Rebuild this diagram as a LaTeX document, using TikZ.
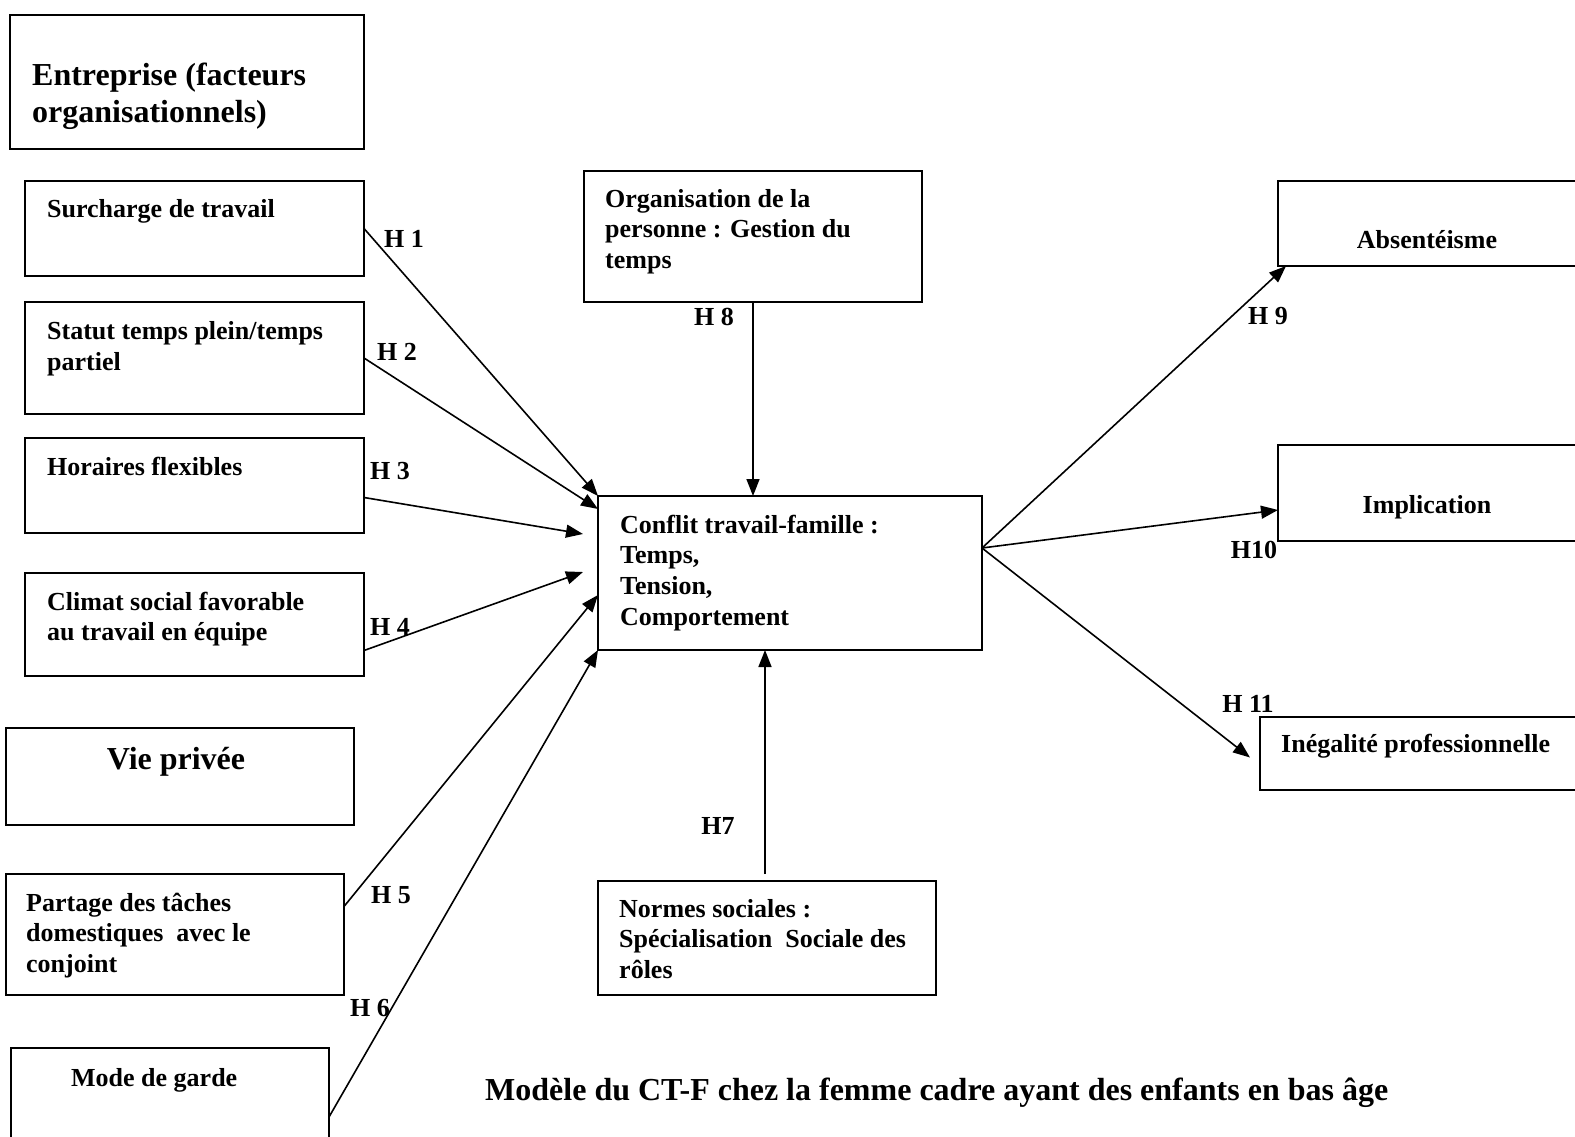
\documentclass[tikz,border=0pt]{standalone}
\usepackage{fontspec}
\setmainfont{Liberation Serif}
\usetikzlibrary{arrows.meta,calc}
\begin{document}
\begin{tikzpicture}[x=1pt,y=-1pt,
  box/.style={draw, line width=1.8pt, inner sep=0pt, outer sep=0pt, anchor=north west},
  txt/.style={anchor=base west, align=left, inner sep=0pt, font=\fontsize{26}{30.7}\selectfont\bfseries},
  bigtxt/.style={anchor=base west, align=left, inner sep=0pt, font=\fontsize{32}{37}\selectfont\bfseries},
  lab/.style={inner sep=0pt, font=\fontsize{26}{30}\selectfont\bfseries},
  arr/.style={line width=1.6pt, -{Triangle[length=17pt,width=13pt]}}]
\useasboundingbox (0,0) rectangle (1575,1137);
% boxes
\node[box, minimum width=354, minimum height=134] (entre) at (10,15) {};
\node[box, minimum width=339, minimum height=95] (surch) at (25,181) {};
\node[box, minimum width=339, minimum height=112] (statut) at (25,302) {};
\node[box, minimum width=339, minimum height=95] (horaires) at (25,438) {};
\node[box, minimum width=339, minimum height=103] (climat) at (25,573) {};
\node[box, minimum width=348, minimum height=97] (vie) at (6,728) {};
\node[box, minimum width=338, minimum height=121] (partage) at (6,874) {};
\node[box, minimum width=318, minimum height=110] (mode) at (11,1048) {};
\node[box, minimum width=338, minimum height=131] (org) at (584,171) {};
\node[box, minimum width=384, minimum height=154] (conflit) at (598,496) {};
\node[box, minimum width=338, minimum height=114] (normes) at (598,881) {};
\node[box, minimum width=310, minimum height=85] (absent) at (1278,181) {};
\node[box, minimum width=310, minimum height=96] (implic) at (1278,445) {};
\node[box, minimum width=330, minimum height=73] (inegal) at (1260,717) {};
% texts (multi-line nodes anchored at the baseline of their last line)
\node[bigtxt] (entreT) at (32,123) {Entreprise (facteurs\\organisationnels)};
\node[txt] (surchT) at (47,217) {Surcharge de travail};
\node[txt] (statutT) at (47,370.2) {Statut temps plein/temps\\partiel};
\node[txt] (horT) at (47,475) {Horaires flexibles};
\node[txt] (climT) at (47,640.7) {Climat social favorable\\au travail en équipe};
\node[bigtxt, anchor=base] (vieT) at (176,769) {Vie privée};
\node[txt] (partT) at (26,972.4) {Partage des tâches\\domestiques\ \ avec le\\conjoint};
\node[txt] (modeT) at (71,1086) {Mode de garde};
\node[txt] (orgT) at (605,268.4) {Organisation de la\\personne : Gestion du\\temps};
\node[txt] (confT) at (620,625.1) {Conflit travail-famille :\\Temps,\\Tension,\\Comportement};
\node[txt] (normT) at (619,978.4) {Normes sociales :\\Spécialisation\ \ Sociale des\\rôles};
\node[txt, anchor=base] (absT) at (1427,248) {Absentéisme};
\node[txt, anchor=base] (impT) at (1427,513) {Implication};
\node[txt] (inegT) at (1281,752) {Inégalité professionnelle};
\node[bigtxt] (caption) at (485,1100) {Modèle du CT-F chez la femme cadre ayant des enfants en bas âge};
% arrows
\draw[arr] (surch.east) -- (conflit.north west);
\draw[arr] (statut.east) -- ($(conflit.north west)+(0,13)$);
\draw[arr] ($(horaires.east)+(0,12)$) -- ($(conflit.west)+(-15,-39)$);
\draw[arr] ($(climat.east)+(0,26)$) -- ($(conflit.west)+(-15,-1)$);
\draw[arr] ($(partage.east)+(0,-28)$) -- ($(conflit.west)+(0,22)$);
\draw[arr] ($(mode.north east)+(0,69)$) -- (conflit.south west);
\draw[arr] (org.south) -- (org.south |- conflit.north);
\coordinate (h7start) at ($(normes.north)+(-2,-7)$);
\draw[arr] (h7start) -- (h7start |- conflit.south);
\coordinate (src) at ($(conflit.east)+(0,-25)$);
\draw[arr] (src) -- ($(absent.south west)+(8,0)$);
\draw[arr] (src) -- ($(implic.west)+(0,17)$);
\draw[arr] (src) -- ($(inegal.west)+(-10,4)$);
% labels
\node[lab] (h1) at (404,239) {H 1};
\node[lab] (h2) at (397,352) {H 2};
\node[lab] (h3) at (390,471) {H 3};
\node[lab] (h4) at (390,627) {H 4};
\node[lab] (h5) at (391,895) {H 5};
\node[lab] (h6) at (370,1008) {H 6};
\node[lab] (h8) at (714,317) {H 8};
\node[lab] (h7) at (718,826) {H7};
\node[lab] (h9) at (1268,316) {H 9};
\node[lab] (h10) at (1254,550) {H10};
\node[lab] (h11) at (1248,704) {H 11};
\end{tikzpicture}
\end{document}
